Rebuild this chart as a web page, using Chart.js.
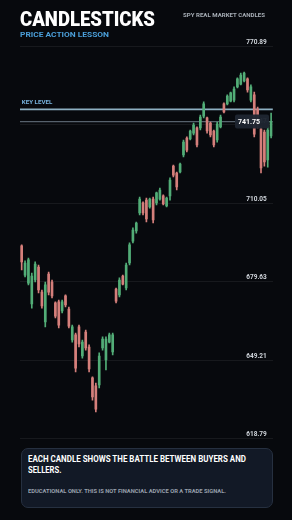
<!DOCTYPE html>
<html><head><meta charset="utf-8">
<script src="https://cdn.jsdelivr.net/npm/chart.js@4.4.1/dist/chart.umd.min.js"></script>
<style>
html,body{margin:0;padding:0;background:#07090d;}
body{width:292px;height:520px;position:relative;overflow:hidden;font-family:Roboto,'Noto Sans',sans-serif;}
#c{position:absolute;left:0;top:0;}
.t{position:absolute;white-space:nowrap;transform-origin:0 0;display:inline-block;line-height:1;}
#title{left:20px;top:9px;font-size:21px;font-weight:900;color:#ffffff;}
#sub{left:20px;top:30.6px;font-size:8px;font-weight:700;color:#4b9fd9;}
#src{left:183px;top:13.3px;font-size:5.5px;font-weight:700;color:#a7aeb6;}
#box{position:absolute;left:20.5px;top:448px;width:250px;height:58px;border:1px solid #263040;border-radius:7px;background:#121926;}
#l1{left:28.3px;top:454.6px;font-size:8.4px;font-weight:700;color:#ffffff;}
#l2{left:28.3px;top:465.6px;font-size:8.4px;font-weight:700;color:#ffffff;}
#l3{left:28.3px;top:489.3px;font-size:5px;font-weight:700;color:#98a0ac;}
</style></head>
<body>
<canvas id="c" width="292" height="445"></canvas>
<span class="t" id="title" data-w="135">CANDLESTICKS</span>
<span class="t" id="sub" data-w="89">PRICE ACTION LESSON</span>
<span class="t" id="src" data-w="82">SPY REAL MARKET CANDLES</span>
<div id="box"></div>
<span class="t" id="l1" data-w="218">EACH CANDLE SHOWS THE BATTLE BETWEEN BUYERS AND</span>
<span class="t" id="l2" data-w="33.4">SELLERS.</span>
<span class="t" id="l3" data-w="198">EDUCATIONAL ONLY. THIS IS NOT FINANCIAL ADVICE OR A TRADE SIGNAL.</span>
<script>
const days = ['1','2','3','4','5','6','7','8','9','10','11','12','13','14','15','16','17','18','19','20','21','22','23','24','25','26','27','28','29','30','31','32','33','34','35','36','37','38','39','40','41','42','43','44','45','46','47','48','49','50','51','52','53','54','55','56','57','58','59','60','61','62','63','64','65','66','67','68','69','70','71','72','73','74','75'];
const openVals = [693.5,682.2,679.1,671.0,680.3,685.3,675.6,664.0,682.6,679.5,671.4,671.8,668.3,674.1,669.0,657.0,659.0,662.1,650.8,660.1,654.3,642.3,639.2,639.6,653.9,649.3,656.2,652.4,676.8,674.5,681.8,677.2,686.9,695.4,699.3,706.3,710.2,711.3,708.6,711.7,710.2,711.7,712.9,709.0,712.9,724.5,721.8,722.2,728.8,735.4,735.0,737.3,739.3,739.3,743.9,743.2,741.2,738.1,734.6,739.7,748.6,748.6,749.7,750.1,755.2,756.3,757.5,758.3,750.1,752.1,746.6,738.9,737.7,726.9,736.2];
const highVals = [693.9,687.7,688.8,683.0,687.3,686.1,676.4,679.5,683.4,680.3,671.8,672.5,672.5,674.5,669.8,662.8,659.7,662.8,657.0,660.9,655.1,642.7,640.3,652.0,658.2,658.2,659.7,659.7,677.2,681.1,682.2,686.9,694.7,700.5,702.8,712.5,710.6,712.1,712.1,712.5,714.4,716.0,713.3,712.5,719.9,724.9,722.2,725.7,734.6,735.8,738.5,741.2,739.7,744.3,749.4,743.5,741.6,738.5,741.6,744.3,749.0,752.1,753.2,755.2,758.7,760.6,761.0,758.7,756.0,753.2,747.4,739.7,738.5,739.7,745.1];
const lowVals = [684.2,681.5,678.4,669.4,679.5,675.3,669.4,662.1,674.5,673.3,665.6,661.7,667.5,669.8,661.7,656.2,644.6,654.3,650.0,653.1,644.6,633.7,629.1,638.4,653.1,645.4,655.9,651.2,671.4,673.7,678.4,676.4,686.1,694.7,698.5,705.5,705.5,702.8,708.2,702.4,709.4,711.3,709.4,708.6,711.3,720.3,715.2,721.8,728.0,730.0,734.6,736.6,731.9,738.5,743.2,737.3,735.8,731.9,733.8,739.3,745.1,748.2,749.4,749.4,754.8,756.0,757.1,753.2,749.4,735.8,739.3,721.8,724.5,724.1,735.4];
const closeVals = [687.3,686.9,688.1,681.8,686.5,676.4,670.2,678.4,675.6,674.1,666.3,662.8,671.8,670.6,662.4,662.1,646.1,655.5,656.2,653.9,645.8,634.9,630.2,650.8,657.4,657.4,659.0,659.0,672.1,680.3,678.7,686.1,693.9,699.7,702.4,711.7,706.3,704.0,711.7,703.6,714.1,715.2,709.8,712.1,719.1,721.0,716.4,725.3,733.8,730.7,738.1,740.4,732.7,743.5,748.6,738.1,736.6,732.7,740.8,743.5,745.5,751.7,752.9,754.4,758.3,759.8,760.6,754.0,755.2,736.9,740.4,723.8,726.1,738.5,741.75];
const tickVals = [618.79,649.21,679.63,710.05,740.47,770.89];
const keyLevel = 746.5;
const lastPrice = 741.75;

const GREEN = '#52ad77', RED = '#d57f7b';
const colors = closeVals.map((c,i)=> c >= openVals[i] ? GREEN : RED);

const overlay = {
  id:'overlay',
  beforeDatasetsDraw(chart){
    const {ctx, chartArea:a, scales:{y}} = chart;
    const ky = y.getPixelForValue(keyLevel);
    const py = y.getPixelForValue(lastPrice);
    ctx.save();
    ctx.strokeStyle='#56616c'; ctx.lineWidth=1.2;
    ctx.beginPath(); ctx.moveTo(a.left, py); ctx.lineTo(a.right, py); ctx.stroke();
    ctx.strokeStyle='#8db0c2'; ctx.lineWidth=1.6;
    ctx.beginPath(); ctx.moveTo(a.left, ky); ctx.lineTo(a.right, ky); ctx.stroke();
    ctx.fillStyle='#78b3de'; ctx.font='bold 6.2px Roboto'; ctx.textBaseline='alphabetic'; ctx.textAlign='left';
    ctx.fillText('KEY LEVEL', a.left+1.8, ky-5);
    ctx.restore();
  },
  afterDatasetsDraw(chart){
    const {ctx, scales:{y}} = chart;
    const py = y.getPixelForValue(lastPrice);
    ctx.save();
    ctx.fillStyle='rgba(30,37,49,0.96)';
    ctx.beginPath();
    if (ctx.roundRect) ctx.roundRect(235, py-7, 34, 14, 2); else ctx.rect(235, py-7, 34, 14);
    ctx.fill();
    ctx.fillStyle='#ffffff'; ctx.font='bold 7px Roboto'; ctx.textBaseline='middle'; ctx.textAlign='left';
    ctx.fillText(lastPrice.toFixed(2), 238, py+0.5);
    ctx.restore();
  }
};

new Chart(document.getElementById('c'), {
  data:{
    labels: days,
    datasets:[
      {type:'bar', data: lowVals.map((l,i)=>[l, highVals[i]]), backgroundColor: colors, barThickness:1, grouped:false, order:2},
      {type:'bar', data: openVals.map((o,i)=>[o, closeVals[i]]), backgroundColor: colors, barThickness:2, grouped:false, order:1}
    ]
  },
  options:{
    responsive:false, animation:false, devicePixelRatio:1,
    layout:{padding:{left:20, right:19.2, top:46.5, bottom:6.5}},
    plugins:{legend:{display:false}, tooltip:{enabled:false}},
    scales:{
      x:{type:'category', offset:true, display:false, grid:{display:false}},
      y:{
        position:'right', min:618.79, max:770.89,
        afterBuildTicks: s => { s.ticks = tickVals.map(v=>({value:v})); },
        afterFit: s => { s.width = 0; },
        border:{display:false},
        grid:{color:'rgba(255,255,255,0.065)', lineWidth:1, drawTicks:false},
        ticks:{mirror:true, padding:-6, labelOffset:-4, color:'#cfd4da', font:{family:'Roboto', size:6.5, weight:'bold'}, callback: v => Number(v).toFixed(2)}
      }
    }
  },
  plugins:[overlay]
});

document.querySelectorAll('.t').forEach(el=>{
  const w = el.getBoundingClientRect().width;
  const target = parseFloat(el.dataset.w);
  el.style.transform = 'scaleX(' + (target/w).toFixed(4) + ')';
});
</script>
</body></html>
